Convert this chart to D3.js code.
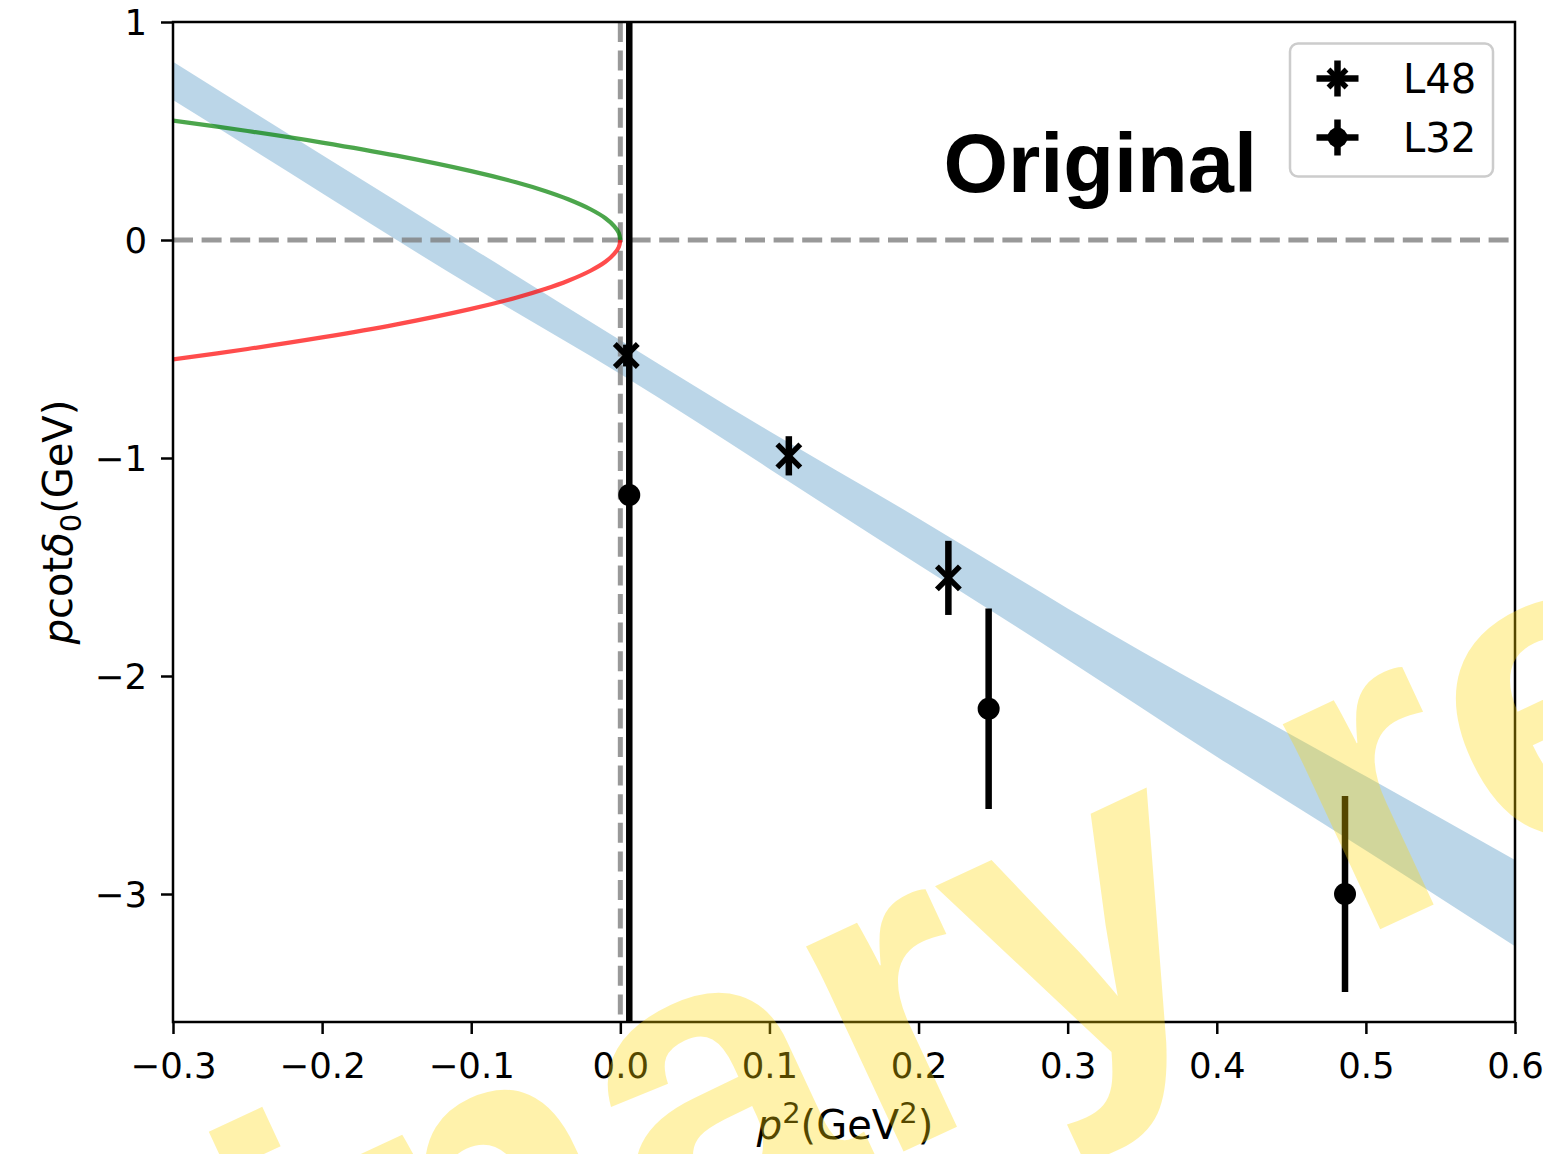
<!DOCTYPE html>
<html>
<head>
<meta charset="utf-8">
<script src="https://cdn.jsdelivr.net/npm/d3@7"></script>
<style>
  html, body { margin: 0; padding: 0; background: #ffffff; }
  svg { display: block; }
</style>
</head>
<body>
<svg id="chart" width="1543" height="1154"></svg>
<script>
// ---- data ----------------------------------------------------------------
// effective-range fit band (p^2 in GeV^2, p cot delta_0 in GeV)
const bandP2    = [-0.3, -0.2, -0.1, 0.0, 0.1, 0.2, 0.3, 0.4, 0.5, 0.6];
const bandUpper = [0.818, 0.39, -0.035, -0.46, -0.877, -1.277, -1.69, -2.08, -2.46, -2.844];
const bandLower = [0.642, 0.215, -0.21, -0.615, -1.05, -1.49, -1.925, -2.37, -2.80, -3.24];

// bound-state condition curves  (+/- sqrt(-p^2))
const curveP2    = [-0.3, -0.25, -0.2, -0.15, -0.1, -0.07, -0.05, -0.035, -0.02, -0.01, -0.004, -0.001, 0];
const greenCurve = [0.548, 0.5, 0.447, 0.387, 0.316, 0.265, 0.224, 0.187, 0.141, 0.1, 0.063, 0.032, 0];
const redCurve   = [-0.548, -0.5, -0.447, -0.387, -0.316, -0.265, -0.224, -0.187, -0.141, -0.1, -0.063, -0.032, 0];

// lattice points
const l48P2  = [0.004, 0.113, 0.220];
const l48Val = [-0.53, -0.99, -1.55];
const l48Err = [0.05, 0.09, 0.17];

const l32P2  = [0.006, 0.247, 0.486];
const l32Val = [-1.17, -2.15, -3.00];
const l32Err = [5.0, 0.46, 0.45];

const xTicks = [-0.3, -0.2, -0.1, 0.0, 0.1, 0.2, 0.3, 0.4, 0.5, 0.6];
const yTicks = [1, 0, -1, -2, -3];
const legendLabels = ["L48", "L32"];
const panelTitle = "Original";
const watermarkText = "Preliminary results";

// ---- layout ----------------------------------------------------------------
const plot = { left: 173, right: 1515, top: 22, bottom: 1022 };
const svg = d3.select("#chart");

const x = d3.scaleLinear().domain([-0.3, 0.6]).range([plot.left, plot.right]);
const y = d3.scaleLinear().domain([1 - (plot.bottom - plot.top) / 218, 1]).range([plot.bottom, plot.top]);

svg.append("defs").append("clipPath").attr("id", "plotClip")
  .append("rect")
  .attr("x", plot.left).attr("y", plot.top)
  .attr("width", plot.right - plot.left).attr("height", plot.bottom - plot.top);

const g = svg.append("g").attr("clip-path", "url(#plotClip)");

// fit band
const band = bandP2.map((p, i) => ({ p, lo: bandLower[i], hi: bandUpper[i] }));
g.append("path")
  .datum(band)
  .attr("d", d3.area().x(d => x(d.p)).y0(d => y(d.lo)).y1(d => y(d.hi)).curve(d3.curveNatural))
  .attr("fill", "#1f77b4").attr("fill-opacity", 0.3);

// reference lines
g.append("line")
  .attr("x1", plot.left).attr("x2", plot.right).attr("y1", y(0)).attr("y2", y(0))
  .attr("stroke", "#808080").attr("stroke-opacity", 0.8)
  .attr("stroke-width", 5).attr("stroke-dasharray", "20,8.6");
g.append("line")
  .attr("x1", x(0)).attr("x2", x(0)).attr("y1", plot.top).attr("y2", plot.bottom)
  .attr("stroke", "#808080").attr("stroke-opacity", 0.8)
  .attr("stroke-width", 5).attr("stroke-dasharray", "20,8.6");

// bound-state curves
const curveLine = d3.line().x(d => x(d[0])).y(d => y(d[1])).curve(d3.curveCatmullRom.alpha(0.5));
g.append("path")
  .attr("d", curveLine(curveP2.map((p, i) => [p, greenCurve[i]])))
  .attr("fill", "none").attr("stroke", "#008000").attr("stroke-opacity", 0.7).attr("stroke-width", 4.2);
g.append("path")
  .attr("d", curveLine(curveP2.map((p, i) => [p, redCurve[i]])))
  .attr("fill", "none").attr("stroke", "#ff0000").attr("stroke-opacity", 0.7).attr("stroke-width", 4.2);

// error bars + markers
const ebW = 6.5;
function xMarker(sel, cx, cy, r) {
  sel.append("path")
    .attr("d", `M${cx - r},${cy - r}L${cx + r},${cy + r}M${cx - r},${cy + r}L${cx + r},${cy - r}`)
    .attr("stroke", "#000").attr("stroke-width", 5.5).attr("fill", "none");
}

l32P2.forEach((p, i) => {
  g.append("line")
    .attr("x1", x(p)).attr("x2", x(p))
    .attr("y1", y(l32Val[i] + l32Err[i])).attr("y2", y(l32Val[i] - l32Err[i]))
    .attr("stroke", "#000").attr("stroke-width", ebW);
  g.append("circle").attr("cx", x(p)).attr("cy", y(l32Val[i])).attr("r", 11).attr("fill", "#000");
});

l48P2.forEach((p, i) => {
  g.append("line")
    .attr("x1", x(p)).attr("x2", x(p))
    .attr("y1", y(l48Val[i] + l48Err[i])).attr("y2", y(l48Val[i] - l48Err[i]))
    .attr("stroke", "#000").attr("stroke-width", ebW);
  xMarker(g, x(p), y(l48Val[i]), 11.5);
});

// ---- axes ----------------------------------------------------------------
const fontAxis = "'DejaVu Sans', sans-serif";
const fmtX = d3.format(".1f");
const fmtY = d3.format("d");

const xAxis = svg.append("g")
  .attr("transform", `translate(0,${plot.bottom})`)
  .call(d3.axisBottom(x).tickValues(xTicks).tickFormat(fmtX).tickSize(12).tickSizeOuter(0));
xAxis.select(".domain").remove();
xAxis.selectAll(".tick line").attr("stroke", "#000").attr("stroke-width", 2.5);
xAxis.selectAll(".tick text")
  .attr("y", 56).attr("dy", 0)
  .attr("font-family", fontAxis).attr("font-size", 35.5).attr("fill", "#000");

const yAxis = svg.append("g")
  .attr("transform", `translate(${plot.left},0)`)
  .call(d3.axisLeft(y).tickValues(yTicks).tickFormat(fmtY).tickSize(12).tickSizeOuter(0));
yAxis.select(".domain").remove();
yAxis.selectAll(".tick line").attr("stroke", "#000").attr("stroke-width", 2.5);
yAxis.selectAll(".tick text")
  .attr("x", -26).attr("dy", "0.36em")
  .attr("font-family", fontAxis).attr("font-size", 35.5).attr("fill", "#000");

// frame
svg.append("rect")
  .attr("x", plot.left).attr("y", plot.top)
  .attr("width", plot.right - plot.left).attr("height", plot.bottom - plot.top)
  .attr("fill", "none").attr("stroke", "#000").attr("stroke-width", 2.5);

// axis titles
const xt = svg.append("text")
  .attr("x", 845).attr("y", 1139)
  .attr("text-anchor", "middle")
  .attr("font-family", fontAxis).attr("font-size", 40).attr("fill", "#000");
xt.append("tspan").attr("font-style", "italic").text("p");
xt.append("tspan").attr("dy", -16).attr("font-size", 29).text("2");
xt.append("tspan").attr("dy", 16).text("(GeV");
xt.append("tspan").attr("dy", -16).attr("font-size", 29).text("2");
xt.append("tspan").attr("dy", 16).text(")");

const yt = svg.append("text")
  .attr("transform", `translate(72,${(plot.top + plot.bottom) / 2}) rotate(-90)`)
  .attr("text-anchor", "middle")
  .attr("font-family", fontAxis).attr("font-size", 40).attr("fill", "#000");
yt.append("tspan").attr("font-style", "italic").text("p");
yt.append("tspan").text("cot");
yt.append("tspan").attr("font-style", "italic").text("δ");
yt.append("tspan").attr("dy", 9).attr("font-size", 29).text("0");
yt.append("tspan").attr("dy", -9).text("(GeV)");

// panel title
svg.append("text")
  .attr("x", 1257).attr("y", 192)
  .attr("text-anchor", "end")
  .attr("font-family", "'Liberation Sans', Arial, sans-serif")
  .attr("font-weight", "bold").attr("font-size", 83).attr("fill", "#000")
  .text(panelTitle);

// ---- legend ----------------------------------------------------------------
const lg = svg.append("g");
lg.append("rect")
  .attr("x", 1290).attr("y", 43.5).attr("width", 203).attr("height", 133).attr("rx", 8)
  .attr("fill", "#fff").attr("fill-opacity", 0.8)
  .attr("stroke", "#cccccc").attr("stroke-width", 2.5);

const legendRows = [78.5, 137.5];
legendLabels.forEach((label, i) => {
  const cy = legendRows[i], cx = 1337.5;
  lg.append("line").attr("x1", cx).attr("x2", cx).attr("y1", cy - 18).attr("y2", cy + 18)
    .attr("stroke", "#000").attr("stroke-width", ebW);
  lg.append("line").attr("x1", cx - 21).attr("x2", cx + 21).attr("y1", cy).attr("y2", cy)
    .attr("stroke", "#000").attr("stroke-width", ebW);
  if (i === 0) xMarker(lg, cx, cy, 9);
  else lg.append("circle").attr("cx", cx).attr("cy", cy).attr("r", 10).attr("fill", "#000");
  lg.append("text")
    .attr("x", 1403).attr("y", cy + 14)
    .attr("font-family", fontAxis).attr("font-size", 40).attr("fill", "#000")
    .text(label);
});

// ---- watermark ----------------------------------------------------------------
const wm = svg.append("text")
  .attr("font-family", "'Liberation Sans', Arial, sans-serif")
  .attr("font-weight", "bold").attr("font-size", 430)
  .attr("fill", "#ffd700").attr("fill-opacity", 0.33)
  .text(watermarkText);
const off = wm.node().getSubStringLength(0, 12);
wm.attr("transform", `translate(1353,942) rotate(-25) translate(${-off},0)`);
</script>
</body>
</html>
